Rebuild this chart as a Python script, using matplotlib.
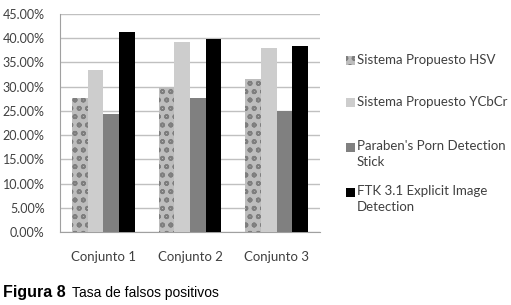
import numpy as np
import matplotlib.pyplot as plt
from matplotlib.patches import Rectangle
from matplotlib.ticker import FuncFormatter

plt.rcParams['hatch.linewidth'] = 1.2

categories = ['Conjunto 1', 'Conjunto 2', 'Conjunto 3']
series_names = ['Sistema Propuesto HSV', 'Sistema Propuesto YCbCr',
                "Paraben's Porn Detection\nStick", 'FTK 3.1 Explicit Image\nDetection']
hsv = [27.7, 29.9, 31.5]
ycbcr = [33.4, 39.2, 37.9]
paraben = [24.4, 27.7, 24.9]
ftk = [41.2, 39.8, 38.4]

W, H = 511, 305
fig = plt.figure(figsize=(W / 100, H / 100), dpi=100)
ax = fig.add_axes([60 / W, (H - 232) / H, 260 / W, 218 / H])

x = np.arange(len(categories))
bw = 0.181
styles = [
    dict(color='#bdbdbd', hatch='oo', edgecolor='#7e7e7e', linewidth=0),
    dict(color='#cdcdcd'),
    dict(color='#808080'),
    dict(color='#000000'),
]
for i, (vals, st) in enumerate(zip([hsv, ycbcr, paraben, ftk], styles)):
    ax.bar(x + (i - 1.5) * bw, vals, bw, zorder=3, **st)

ax.set_xlim(-0.5, 2.5)
ax.set_ylim(0, 45)
ax.set_yticks(np.arange(0, 46, 5))
ax.yaxis.set_major_formatter(FuncFormatter(lambda v, p: f'{v:.2f}%'))
ax.set_xticks(x)
ax.set_xticklabels(categories)
ax.grid(axis='y', color='#c0c0c0', linewidth=1, zorder=0)
for s in ['top', 'right']:
    ax.spines[s].set_visible(False)
for s in ['left', 'bottom']:
    ax.spines[s].set_color('#a0a0a0')
ax.tick_params(axis='y', length=0, labelsize=9, labelcolor='#404040', pad=11)
ax.tick_params(axis='x', length=0, labelsize=9.5, labelcolor='#404040', pad=14)
for t in ax.get_xticklabels() + ax.get_yticklabels():
    t.set_family('Lato')

# legend
leg_y = [60, 102, 147, 192]
for st, name, yy in zip(styles, series_names, leg_y):
    st2 = dict(st)
    c = st2.pop('color')
    fig.patches.append(Rectangle((346 / W, 1 - (yy + 4.5) / H), 9 / W, 9 / H,
                                 transform=fig.transFigure, facecolor=c,
                                 edgecolor=st2.get('edgecolor', 'none'),
                                 hatch=st2.get('hatch'), linewidth=0))
    fig.text(357 / W, 1 - (yy - 7) / H if '\n' in name else 1 - yy / H, name,
             ha='left', va='top' if '\n' in name else 'center',
             fontsize=9.5, family='Lato', color='#404040', linespacing=1.4)

fig.text(3 / W, 1 - 297 / H, 'Figura 8', fontsize=11.5, fontweight='bold',
         family='Liberation Sans', va='baseline')
fig.text(72 / W, 1 - 297 / H, 'Tasa de falsos positivos', fontsize=10,
         family='Liberation Sans', va='baseline')

fig.savefig('out.png', dpi=100)
